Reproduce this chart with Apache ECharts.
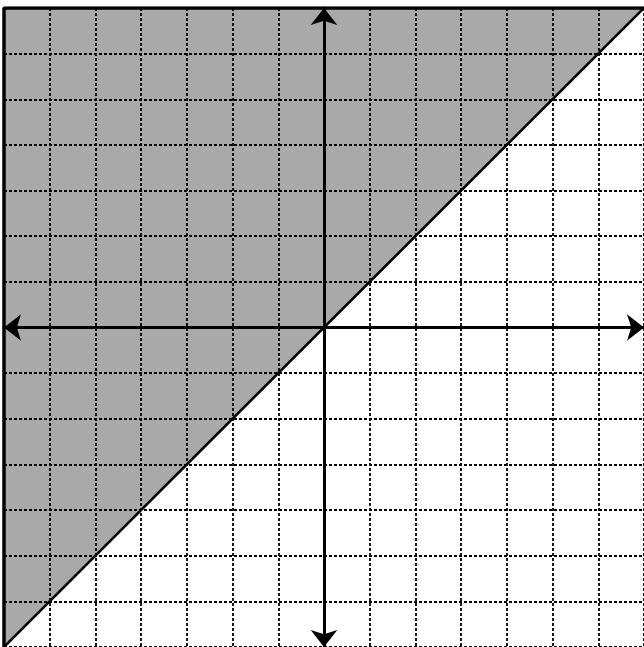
<html>
<head>
    <meta charset="UTF-8">
    <title>Inequality y > x</title>
    <script src="https://cdn.jsdelivr.net/npm/echarts@6/dist/echarts.min.js"></script>
    <style>
        html, body { margin: 0; padding: 0; background: #fff; }
        #main { width: 644px; height: 647px; }
    </style>
</head>
<body>
<div id="main"></div>
<script>
    // axis range (grid units)
    const axisMin = -7;
    const axisMax = 7;
    const tickStep = 1;
    // boundary line y = x
    const boundaryLine = [[-7, -7], [7, 7]];
    // left and top frame of the plot
    const frameLine = [[-7, -7], [-7, 7], [7, 7]];

    const chart = echarts.init(document.getElementById('main'));

    const axisCommon = {
        type: 'value',
        min: axisMin,
        max: axisMax,
        interval: tickStep,
        axisLabel: { show: false },
        axisTick: { show: false },
        axisLine: {
            show: true,
            onZero: true,
            symbol: ['arrow', 'arrow'],
            symbolSize: [20, 17],
            lineStyle: { color: '#000', width: 3 }
        },
        splitLine: {
            show: true,
            lineStyle: { color: '#000', width: 1.8, type: [3, 2] }
        },
        z: 1
    };

    const option = {
        animation: false,
        grid: { left: 4, top: 8, width: 641, height: 641, containLabel: false },
        xAxis: axisCommon,
        yAxis: axisCommon,
        series: [
            {
                // shaded half-plane y > x
                type: 'line',
                data: boundaryLine,
                symbol: 'none',
                lineStyle: { width: 0 },
                areaStyle: { color: '#a9a9a9', opacity: 1, origin: 'end' },
                z: -1,
                silent: true
            },
            {
                type: 'line',
                data: boundaryLine,
                symbol: 'none',
                lineStyle: { color: '#000', width: 2.5 },
                z: 3
            },
            {
                type: 'line',
                data: frameLine,
                symbol: 'none',
                lineStyle: { color: '#000', width: 3.5 },
                z: 3
            }
        ]
    };

    chart.setOption(option);
</script>
</body>
</html>
